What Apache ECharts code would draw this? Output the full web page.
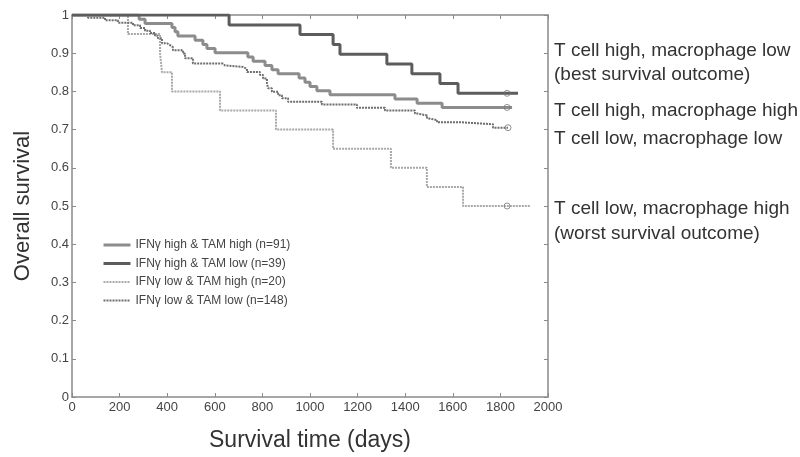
<!DOCTYPE html>
<html>
<head>
<meta charset="utf-8">
<title>Overall survival</title>
<script src="https://cdn.jsdelivr.net/npm/echarts@6/dist/echarts.min.js"></script>
<style>
  html, body { margin: 0; padding: 0; background: #fff; }
  #box { width: 800px; height: 457px; }
</style>
</head>
<body>
<div id="box"></div>
<script>
// IFNγ high & TAM high (n=91) - step times (days) and survival after the step
var hhTimes = [0, 282, 307, 420, 433, 445, 517, 550, 567, 601, 739, 761, 811, 840, 866, 954, 979, 1000, 1029, 1084, 1357, 1450, 1555, 1849];
var hhSurv  = [1, 0.989, 0.978, 0.967, 0.956, 0.945, 0.934, 0.923, 0.912, 0.901, 0.890, 0.879, 0.868, 0.857, 0.846, 0.835, 0.824, 0.813, 0.802, 0.791, 0.780, 0.769, 0.758, 0.758];

// IFNγ high & TAM low (n=39)
var hlTimes = [0, 660, 958, 1097, 1126, 1323, 1428, 1546, 1622, 1874];
var hlSurv  = [1, 0.974, 0.949, 0.923, 0.897, 0.872, 0.846, 0.821, 0.795, 0.795];

// IFNγ low & TAM high (n=20)
var lhTimes = [0, 235, 370, 378, 420, 622, 857, 1097, 1340, 1491, 1643, 1924];
var lhSurv  = [1, 0.95, 0.90, 0.85, 0.80, 0.75, 0.70, 0.65, 0.60, 0.55, 0.50, 0.50];

// IFNγ low & TAM low (n=148)
var llTimes = [0, 67, 139, 193, 256, 286, 307, 328, 349, 361, 378, 399, 412, 424, 466, 475, 508, 634, 643, 718, 735, 790, 803, 819, 824, 840, 866, 882, 908, 1050, 1197, 1315, 1441, 1450, 1492, 1496, 1534, 1639, 1769, 1832];
var llSurv  = [1, 0.993, 0.986, 0.980, 0.973, 0.966, 0.959, 0.953, 0.946, 0.939, 0.926, 0.921, 0.916, 0.908, 0.899, 0.887, 0.873, 0.868, 0.864, 0.859, 0.851, 0.843, 0.834, 0.821, 0.808, 0.799, 0.790, 0.782, 0.773, 0.766, 0.757, 0.750, 0.742, 0.737, 0.730, 0.725, 0.719, 0.714, 0.705, 0.705];

// censor marks at the end of follow-up
var censorTimes = [1828, 1828, 1828, 1832];
var censorSurv  = [0.758, 0.795, 0.50, 0.705];

var names = ['IFNγ high & TAM high (n=91)', 'IFNγ high & TAM low (n=39)', 'IFNγ low & TAM high (n=20)', 'IFNγ low & TAM low (n=148)'];

// right-hand annotations: text and vertical position
var notes  = ['T cell high, macrophage low', '(best survival outcome)', 'T cell high, macrophage high', 'T cell low, macrophage low', 'T cell low, macrophage high', '(worst survival outcome)'];
var notesY = [52, 76, 112, 140, 210, 235];

function pairs(t, s) {
    var out = [];
    for (var i = 0; i < t.length; i++) out.push([t[i], s[i]]);
    return out;
}

var myChart = echarts.init(document.getElementById('box'));

var axisGray = '#8a8a8a';
var font = 'Liberation Sans, Arial, Helvetica, sans-serif';

function xAx(pos, showLabels) {
    return {
        type: 'value', position: pos, min: 0, max: 2000, interval: 200,
        axisLine: { show: true, onZero: false, lineStyle: { color: axisGray, width: 1.5 } },
        axisTick: { show: true, inside: true, length: 4, lineStyle: { color: axisGray } },
        axisLabel: { show: showLabels, color: '#444', fontSize: 13, fontFamily: font, margin: 4,
                     formatter: function (v) { return String(v); } },
        splitLine: { show: false },
        name: showLabels ? 'Survival time (days)' : '',
        nameLocation: 'middle', nameGap: 32,
        nameTextStyle: { fontSize: 23, color: '#333', fontFamily: font }
    };
}
function yAx(pos, showLabels) {
    return {
        type: 'value', position: pos, min: 0, max: 1, interval: 0.1,
        axisLine: { show: true, onZero: false, lineStyle: { color: axisGray, width: 1.5 } },
        axisTick: { show: true, inside: true, length: 4, lineStyle: { color: axisGray } },
        axisLabel: { show: showLabels, color: '#444', fontSize: 13, fontFamily: font, margin: 3 },
        splitLine: { show: false },
        name: showLabels ? 'Overall survival' : '',
        nameLocation: 'middle', nameGap: 38,
        nameTextStyle: { fontSize: 22, color: '#333', fontFamily: font }
    };
}

var graphics = notes.map(function (t, i) {
    return { type: 'text', left: 554, top: notesY[i] - 11,
             style: { text: t, fill: '#333', font: '19px ' + font } };
});

var option = {
    animation: false,
    backgroundColor: '#fff',
    grid: { left: 72, top: 15, right: 252, bottom: 60, outerBoundsMode: 'none', containLabel: false },
    xAxis: [xAx('bottom', true), xAx('top', false)],
    yAxis: [yAx('left', true), yAx('right', false)],
    legend: {
        data: [
            { name: names[0], lineStyle: { width: 3 } },
            { name: names[1], lineStyle: { width: 3 } },
            { name: names[2], lineStyle: { width: 2 } },
            { name: names[3], lineStyle: { width: 2 } }
        ],
        orient: 'vertical',
        left: 97, top: 234,
        itemWidth: 27, itemHeight: 12, itemGap: 6.5,
        itemStyle: { opacity: 0 },
        textStyle: { fontSize: 12, color: '#444', fontFamily: font }
    },
    graphic: graphics,
    series: [
        {
            name: names[0], type: 'line', step: 'end', showSymbol: false, symbol: 'none',
            lineStyle: { color: '#8c8c8c', width: 3 }, itemStyle: { color: '#8c8c8c' },
            data: pairs(hhTimes, hhSurv), z: 3
        },
        {
            name: names[1], type: 'line', step: 'end', showSymbol: false, symbol: 'none',
            lineStyle: { color: '#5c5c5c', width: 3 }, itemStyle: { color: '#5c5c5c' },
            data: pairs(hlTimes, hlSurv), z: 3
        },
        {
            name: names[2], type: 'line', step: 'end', showSymbol: false, symbol: 'none',
            lineStyle: { color: '#a8a8a8', width: 2, type: [2, 1] }, itemStyle: { color: '#a8a8a8' },
            data: pairs(lhTimes, lhSurv), z: 2
        },
        {
            name: names[3], type: 'line', step: 'end', showSymbol: false, symbol: 'none',
            lineStyle: { color: '#6e6e6e', width: 2, type: [2, 1] }, itemStyle: { color: '#6e6e6e' },
            data: pairs(llTimes, llSurv), z: 2
        },
        {
            name: 'censor', type: 'scatter', symbol: 'circle', symbolSize: 6,
            itemStyle: { color: 'transparent', borderColor: '#777', borderWidth: 1 },
            data: pairs(censorTimes, censorSurv), z: 4
        }
    ]
};

myChart.setOption(option);
</script>
</body>
</html>
